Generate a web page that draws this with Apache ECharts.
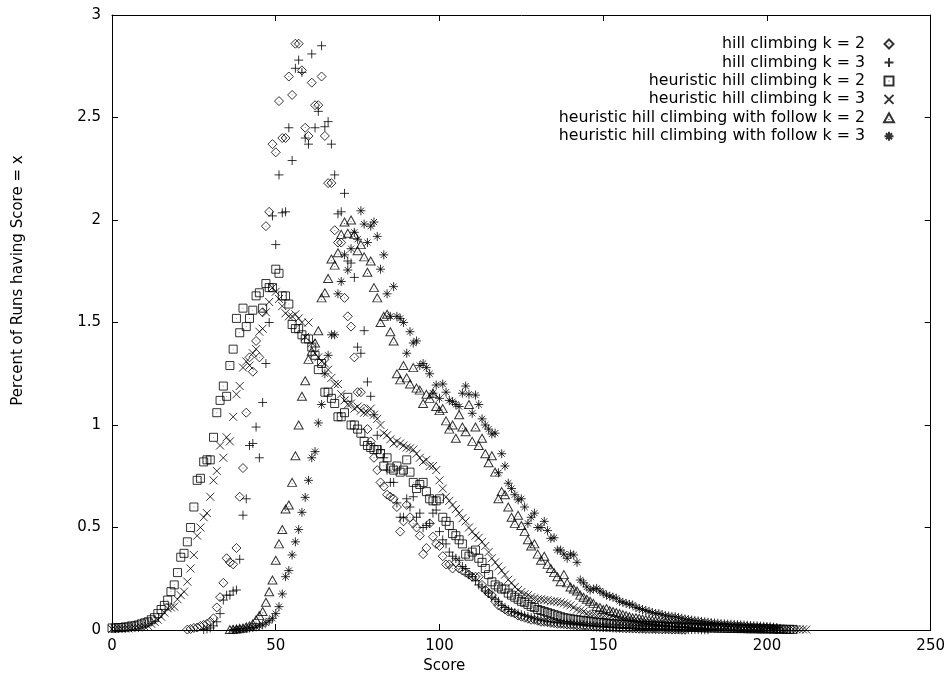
<!DOCTYPE html>
<html>
<head>
<meta charset="utf-8">
<script src="https://cdn.jsdelivr.net/npm/echarts@6/dist/echarts.min.js"></script>
<style>html,body{margin:0;padding:0;background:#fff}#c{width:948px;height:679px}</style>
</head>
<body>
<div id="c"></div>
<script>
// ---- data (y = percent of runs, one value per integer score starting at *Start) ----
const seriesNames = [
  'hill climbing k = 2',
  'hill climbing k = 3',
  'heuristic hill climbing k = 2',
  'heuristic hill climbing k = 3',
  'heuristic hill climbing with follow k = 2',
  'heuristic hill climbing with follow k = 3'
];
const xTicks = [0, 50, 100, 150, 200, 250];
const yTicks = [0, 0.5, 1, 1.5, 2, 2.5, 3];

const hc2Start = 23;
const hc2 = [
  0.002,0.005,0.01,0.012,0.02,0.025,0.03,0.04,
  0.057,0.11,0.16,0.23,0.35,0.33,0.32,0.40,0.65,0.79,
  1.06,1.33,1.26,1.41,1.33,1.55,1.97,2.04,2.37,2.33,
  2.58,2.40,2.40,2.70,2.61,2.86,2.86,2.73,2.45,2.41,
  2.67,2.56,2.56,2.70,2.41,2.18,2.18,1.95,1.89,1.89,
  1.62,1.53,1.48,1.33,1.16,1.16,1.08,0.98,0.92,0.84,
  0.78,0.72,0.70,0.66,0.65,0.64,0.60,0.48,0.53,0.61,
  0.55,0.52,0.50,0.46,0.37,0.40,0.52,0.455,0.42,0.41,
  0.36,0.32,0.32,0.30,0.33,0.30,0.29,0.28,0.27,0.26,
  0.26,0.26,0.22,0.195,0.18,0.17,0.14,0.12,0.11,0.10,
  0.09,0.085,0.08,0.07,0.065,0.06,0.055,0.05,0.05,0.045,
  0.04,0.04,0.038,0.035,0.033,0.03,0.03,0.028,0.026,0.025,
  0.024,0.022,0.02,0.02,0.018,0.017,0.016,0.015,0.014,0.013,
  0.012,0.012,0.011,0.01,0.01,0.009,0.008,0.008,0.007,0.007,
  0.006,0.006,0.005,0.005,0.005,0.004,0.004,0.003,0.003,0.003,
  0.002,0.002,0.002,0.001,0.001
];

const hc3Start = 28;
const hc3 = [
  0.002,0.005,0.01,
  0.02,0.04,0.08,0.146,0.17,0.17,0.19,0.195,0.345,0.56,
  0.64,0.90,0.91,0.99,0.84,1.11,1.30,1.50,2.02,1.88,
  2.22,2.035,2.04,2.45,2.29,2.74,2.78,2.72,2.40,2.37,
  2.81,2.45,2.53,2.85,2.455,2.48,2.37,2.22,2.03,2.04,
  2.13,1.80,1.79,1.72,1.38,1.35,1.46,1.21,1.14,1.05,
  0.95,0.88,0.84,0.78,0.72,0.72,0.62,0.55,0.55,0.64,
  0.60,0.65,0.55,0.57,0.50,0.51,0.52,0.57,0.585,0.48,
  0.44,0.42,0.38,0.36,0.35,0.34,0.31,0.30,0.27,0.26,
  0.24,0.22,0.21,0.19,0.18,0.16,0.15,0.14,0.12,0.11,
  0.10,0.09,0.085,0.08,0.075,0.07,0.065,0.06,0.055,0.05,
  0.048,0.045,0.042,0.04,0.038,0.036,0.035,0.033,0.03,0.03,
  0.028,0.026,0.025,0.024,0.022,0.02,0.02,0.019,0.018,0.017,
  0.016,0.015,0.014,0.013,0.012,0.012,0.011,0.01,0.01,0.009,
  0.008,0.008,0.007,0.007,0.006,0.006,0.005,0.005,0.005,0.004,
  0.004,0.004,0.003,0.003,0.003,0.002,0.002,0.002,0.002,0.001,0.001,0.001
];

const hhc2Start = 0;
const hhc2 = [
  0.01,0.01,0.012,0.012,0.015,0.015,0.02,0.02,0.025,0.03,
  0.035,0.04,0.05,0.06,0.08,0.10,0.12,0.146,0.187,0.22,
  0.28,0.355,0.374,0.43,0.50,0.60,0.73,0.74,0.82,0.83,
  0.83,0.94,1.06,1.12,1.19,1.14,1.29,1.37,1.52,1.45,
  1.57,1.48,1.52,1.56,1.63,1.645,1.57,1.69,1.67,1.67,
  1.76,1.74,1.63,1.63,1.59,1.49,1.47,1.47,1.44,1.42,
  1.42,1.38,1.34,1.27,1.30,1.16,1.16,1.13,1.105,1.04,
  1.04,1.06,1.135,1.00,1.00,0.98,0.96,0.92,0.90,0.89,
  0.88,0.88,0.86,0.80,0.84,0.79,0.78,0.80,0.77,0.78,
  0.83,0.77,0.72,0.69,0.71,0.72,0.675,0.64,0.63,0.63,
  0.64,0.55,0.53,0.51,0.47,0.46,0.44,0.42,0.37,0.36,
  0.38,0.39,0.35,0.33,0.30,0.27,0.235,0.22,0.21,0.20,
  0.20,0.18,0.17,0.16,0.15,0.14,0.135,0.125,0.115,0.11,
  0.10,0.095,0.09,0.085,0.08,0.075,0.07,0.065,0.06,0.058,
  0.055,0.052,0.05,0.048,0.046,0.044,0.042,0.04,0.038,0.036,
  0.035,0.034,0.032,0.031,0.03,0.029,0.028,0.027,0.026,0.025,
  0.024,0.023,0.022,0.021,0.02,0.02,0.019,0.018,0.018,0.017,
  0.016,0.016,0.015,0.015,0.014,0.014,0.013,0.013,0.012,0.012,
  0.011,0.011,0.01,0.01,0.01,0.009,0.009,0.009,0.008,0.008,
  0.008,0.007,0.007,0.007,0.006,0.006,0.006,0.006,0.005,0.005,
  0.005,0.005,0.004,0.004,0.004,0.004,0.003,0.003,0.003
];

const hhc3Start = 0;
const hhc3 = [
  0.005,0.005,0.006,0.006,0.007,0.008,0.009,0.01,0.012,0.014,
  0.016,0.02,0.03,0.04,0.05,0.065,0.085,0.106,0.11,0.114,
  0.15,0.17,0.187,0.236,0.30,0.366,0.46,0.50,0.55,0.57,
  0.65,0.73,0.776,0.90,0.84,0.94,0.92,1.04,1.15,1.19,
  1.28,1.31,1.29,1.35,1.37,1.455,1.47,1.55,1.60,1.67,
  1.65,1.615,1.58,1.545,1.53,1.53,1.54,1.52,1.50,1.43,
  1.50,1.40,1.35,1.33,1.31,1.30,1.27,1.23,1.20,1.20,
  1.15,1.12,1.10,1.105,1.08,1.09,1.07,1.06,1.06,1.08,
  1.05,1.03,1.00,0.96,0.95,0.93,0.91,0.92,0.91,0.90,
  0.89,0.886,0.88,0.86,0.84,0.82,0.83,0.80,0.80,0.78,
  0.73,0.69,0.65,0.63,0.61,0.59,0.57,0.545,0.53,0.50,
  0.48,0.46,0.45,0.43,0.41,0.38,0.35,0.33,0.31,0.29,
  0.27,0.245,0.23,0.21,0.195,0.185,0.175,0.17,0.16,0.155,
  0.15,0.15,0.146,0.145,0.14,0.14,0.138,0.135,0.13,0.125,
  0.12,0.11,0.10,0.095,0.09,0.08,0.077,0.074,0.07,0.067,
  0.064,0.06,0.057,0.055,0.052,0.05,0.048,0.046,0.044,0.042,
  0.04,0.038,0.036,0.035,0.033,0.032,0.03,0.029,0.028,0.027,
  0.026,0.025,0.024,0.023,0.022,0.021,0.02,0.019,0.018,0.018,
  0.017,0.016,0.016,0.015,0.014,0.014,0.013,0.013,0.012,0.012,
  0.011,0.011,0.01,0.01,0.009,0.009,0.009,0.008,0.008,0.008,
  0.007,0.007,0.006,0.006,0.006,0.005,0.005,0.005,0.004,0.004,0.003,0.003,0.002
];

const hf2Start = 36;
const hf2 = [
  0.002,0.003,0.005,0.008,
  0.01,0.016,0.02,0.03,0.05,0.07,0.09,0.135,0.187,0.244,
  0.34,0.42,0.49,0.59,0.61,0.72,0.85,1.0,1.14,1.216,
  1.32,1.36,1.40,1.46,1.62,1.645,1.715,1.81,1.78,1.84,
  1.93,1.99,1.935,2.0,1.93,1.85,1.88,1.82,1.745,1.80,
  1.67,1.62,1.50,1.53,1.54,1.455,1.41,1.25,1.22,1.29,
  1.23,1.20,1.28,1.18,1.17,1.105,1.15,1.13,1.155,1.09,
  1.07,1.08,1.02,0.98,1.00,0.935,1.05,0.99,0.967,1.10,
  0.92,0.99,0.90,0.935,0.86,0.816,0.85,0.77,0.64,0.675,
  0.66,0.60,0.55,0.52,0.56,0.51,0.48,0.44,0.41,0.42,
  0.37,0.34,0.36,0.32,0.30,0.28,0.26,0.235,0.27,0.23,
  0.21,0.20,0.19,0.17,0.16,0.15,0.14,0.13,0.114,0.11,
  0.10,0.105,0.095,0.09,0.085,0.08,0.075,0.07,0.065,0.06,
  0.06,0.057,0.054,0.051,0.049,0.047,0.045,0.043,0.041,0.04,
  0.038,0.036,0.035,0.033,0.032,0.031,0.03,0.028,0.027,0.026,
  0.025,0.024,0.023,0.022,0.021,0.02,0.019,0.018,0.017,0.016,
  0.016,0.015,0.014,0.013,0.013,0.012,0.011,0.011,0.01,0.01,
  0.009,0.008,0.008,0.007,0.006
];

const hf3Start = 37;
const hf3 = [
  0.002,0.003,0.005,
  0.006,0.008,0.01,0.012,0.015,0.02,0.025,0.035,0.045,0.057,
  0.08,0.114,0.176,0.26,0.29,0.366,0.43,0.49,0.574,0.647,
  0.73,0.84,0.87,1.01,1.10,1.25,1.34,1.44,1.44,1.64,
  1.70,1.83,1.756,1.86,1.94,1.906,2.045,1.98,1.89,1.97,
  1.99,1.92,1.76,1.83,1.64,1.53,1.675,1.53,1.52,1.50,
  1.35,1.455,1.40,1.41,1.29,1.30,1.28,1.25,1.155,1.195,
  1.13,1.20,1.16,1.12,1.114,1.10,1.09,1.155,1.19,1.15,
  1.057,1.146,1.10,1.03,1.00,0.98,0.956,0.96,0.767,0.86,
  0.80,0.716,0.69,0.66,0.635,0.64,0.60,0.52,0.55,0.57,
  0.50,0.50,0.53,0.485,0.447,0.45,0.39,0.39,0.37,0.35,
  0.37,0.366,0.33,0.244,0.23,0.21,0.195,0.20,0.203,0.19,
  0.18,0.17,0.165,0.16,0.155,0.14,0.135,0.13,0.125,0.122,
  0.11,0.105,0.10,0.095,0.09,0.085,0.08,0.08,0.075,0.07,
  0.068,0.065,0.065,0.06,0.057,0.054,0.051,0.048,0.046,0.044,
  0.042,0.04,0.038,0.036,0.034,0.033,0.031,0.03,0.029,0.028,
  0.027,0.026,0.025,0.024,0.023,0.022,0.021,0.02,0.019,0.018,
  0.017,0.016,0.014,0.012
];

// ---- build chart ----
function pairs(start, vals) { return vals.map((v, i) => [start + i, v]); }

const FONT = 'DejaVu Sans';
const symbols = [
  'path://M5,0L10,5L5,10L0,5Z M5,4.7L5,5.3',
  'path://M0,5L10,5M5,0L5,10',
  'path://M0,0L10,0L10,10L0,10Z M5,4.7L5,5.3',
  'path://M0,0L10,10M10,0L0,10',
  'path://M5,0L10,9L0,9Z M5,5.7L5,6.3',
  'path://M0,5L10,5M5,0L5,10M1.6,1.6L8.4,8.4M8.4,1.6L1.6,8.4'
];
const sizes = [[9,9],[9,9],[8,8],[8,8],[9,8],[9,9]];
const dataSets = [
  pairs(hc2Start, hc2), pairs(hc3Start, hc3), pairs(hhc2Start, hhc2),
  pairs(hhc3Start, hhc3), pairs(hf2Start, hf2), pairs(hf3Start, hf3)
];

const series = seriesNames.map((name, i) => ({
  name: name,
  type: 'scatter',
  data: dataSets[i],
  symbol: symbols[i],
  symbolSize: sizes[i],
  itemStyle: { color: 'rgba(0,0,0,0)', borderColor: '#000', borderWidth: 1 },
  emphasis: { disabled: true },
  xAxisIndex: 0, yAxisIndex: 0
}));

const axisCommon = {
  type: 'value',
  splitLine: { show: false },
  axisLine: { show: true, onZero: false, lineStyle: { color: '#000', width: 1 } },
  axisTick: { show: true, inside: true, length: 6, lineStyle: { color: '#000', width: 1 } }
};

const chart = echarts.init(document.getElementById('c'), null, { renderer: 'canvas' });
chart.setOption({
  animation: false,
  backgroundColor: '#fff',
  textStyle: { fontFamily: FONT, color: '#000' },
  grid: { left: 112, right: 16, top: 15, bottom: 49, containLabel: false },
  legend: {
    data: seriesNames,
    orient: 'vertical',
    align: 'right',
    right: 48,
    top: 30,
    itemWidth: 38,
    itemHeight: 9,
    itemGap: 0.45,
    selectedMode: false,
    textStyle: { fontFamily: FONT, fontSize: 15.8, color: '#000', lineHeight: 18 }
  },
  xAxis: [
    Object.assign({}, axisCommon, {
      position: 'bottom', min: xTicks[0], max: xTicks[xTicks.length - 1], interval: 50,
      name: 'Score', nameLocation: 'middle', nameGap: 25,
      nameTextStyle: { fontFamily: FONT, fontSize: 15, color: '#000', padding: [0, 154, 0, 0] },
      axisLabel: { show: true, margin: 9, fontFamily: FONT, fontSize: 15, color: '#000' }
    }),
    Object.assign({}, axisCommon, {
      position: 'top', min: xTicks[0], max: xTicks[xTicks.length - 1], interval: 50,
      axisLabel: { show: false }
    })
  ],
  yAxis: [
    Object.assign({}, axisCommon, {
      position: 'left', min: yTicks[0], max: yTicks[yTicks.length - 1], interval: 0.5,
      name: 'Percent of Runs having Score = x', nameLocation: 'middle', nameGap: 86, nameRotate: 90,
      nameTextStyle: { fontFamily: FONT, fontSize: 15, color: '#000', padding: [0, 0, 0, 84] },
      axisLabel: { show: true, margin: 11, fontFamily: FONT, fontSize: 15, color: '#000' }
    }),
    Object.assign({}, axisCommon, {
      position: 'right', min: yTicks[0], max: yTicks[yTicks.length - 1], interval: 0.5,
      axisLabel: { show: false }
    })
  ],
  series: series
});
</script>
</body>
</html>
